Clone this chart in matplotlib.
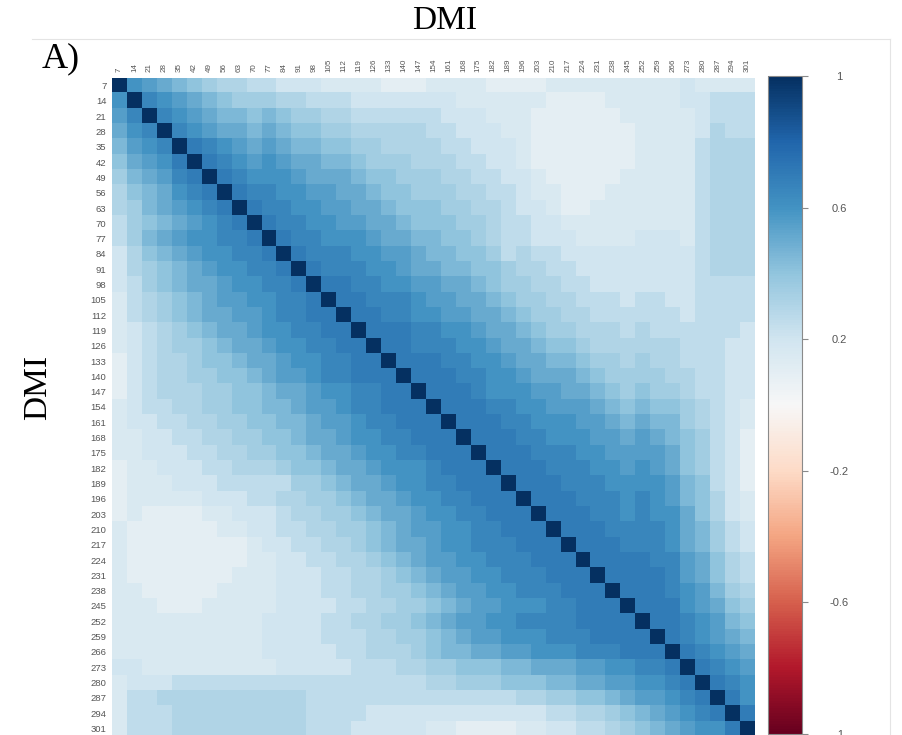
import numpy as np
import matplotlib
matplotlib.use("Agg")
import matplotlib.pyplot as plt
from matplotlib.lines import Line2D

# ---------------- data ----------------
labels = ["7", "14", "21", "28", "35", "42", "49", "56", "63", "70", "77", "84",
          "91", "98", "105", "112", "119", "126", "133", "140", "147", "154",
          "161", "168", "175", "182", "189", "196", "203", "210", "217", "224",
          "231", "238", "245", "252", "259", "266", "273", "280", "287", "294",
          "301"]

# correlation levels: character index in LEVELS / 20  (e.g. 'E' = 0.70)
LEVELS = "0123456789ABCDEFGHIJK"
diag_char = "K"

# lower triangle, row i holds columns 0..i-1;
# spaces only group the characters for readability
lower_rows = [
    "C",
    "BD",
    "ACD",
    "9BCD",
    "8ABCE",
    "79ABDE",
    "689ACDE",
    "679ABCDE",
    "5789ABCDE",
    "579ABCCDDE",
    "4689ABCCDDE",
    "46789ABCCDDE",
    "45789AABCCDDE",
    "356789ABBCCDDE",
    "356789AABBCDDEE",
    "3456789AABCCDDEE",
    "34567789AABCCDDEE",
    "245667889AABCCDDEE",
    "2456677889ABBCDDEEE",
    "24566677889AABCCDDEE",
    "345566778899ABBCDDEEE",
    "3445566778899ABBCDDEEE",
    "3344556677889AABCCDDEEE",
    "33444556677889AABCCDDEEE",
    "233444556667889AABCCCDEEE",
    "2333444555557789AABCCDDEEE",
    "23333344455667789AABCCDDEEE",
    "232222334445667789AABCCDDEEE",
    "3222222334455667789ABBCCDDEEE",
    "3 22222222 3445566789AABCCDDDEEE",
    "3 22222222 33445566789ABBCCDDDEEE",
    "3 2222222 3334445566789ABBCCDDDEEE",
    "33 22222 3333 444 55667789ABBCCDDDEEE",
    "333 222 33333 4444 55667789ABBCCCDDEEE",
    "3333333333 4444 5566778 9ABBCCDDDD EEEE",
    "3333333333 4444 555 6677 89ABBCCCDDD EEEE",
    "3333333333 44444 556667 899AABBCCCDDDEEE",
    "44 333333333 44444 55566 7788899AAABBCCDDE",
    "3 444 555555555 55555555 6677788899AABBCCDE",
    "3 556 666666666 5555 5555 555555 6677889ABBCDE",
    "3 555 666666666 5555 4444 4444444 45566789ABCDE",
    "3 555 666666666 555 44444 33222233 44556789ABCCE",
]

# ---------------- build matrix ----------------
n = len(labels)
M = np.full((n, n), LEVELS.index(diag_char) / 20.0)
bad = []
for i, row in enumerate(lower_rows, start=1):
    row = row.replace(" ", "")
    if len(row) != i:
        bad.append((i, len(row)))
        continue
    for j, ch in enumerate(row):
        v = LEVELS.index(ch) / 20.0
        M[i, j] = v
        M[j, i] = v
if bad:
    raise ValueError(f"row length mismatch: {bad}")

# ---------------- figure ----------------
W, H = 902, 735
fig = plt.figure(figsize=(W / 100, H / 100), dpi=100)


def fx(px):
    return px / W


def fy(py):
    return 1 - py / H


hm_left, hm_right, hm_top, hm_bottom = 112, 755, 78, 736
ax = fig.add_axes([fx(hm_left), fy(hm_bottom), fx(hm_right - hm_left),
                   (hm_bottom - hm_top) / H])
im = ax.imshow(M, cmap="RdBu", vmin=-1, vmax=1, aspect="auto",
               interpolation="nearest")
ax.set_xticks(range(n))
ax.set_yticks(range(n))
ax.set_xticklabels(labels, rotation=90, fontsize=5.8, color="#555555",
                   family=["Liberation Sans", "DejaVu Sans"])
ax.set_yticklabels(labels, fontsize=6.8, color="#555555",
                   family=["Liberation Sans", "DejaVu Sans"])
ax.xaxis.tick_top()
ax.tick_params(axis="both", length=0, pad=4)
for s in ax.spines.values():
    s.set_visible(False)

# colorbar
cax = fig.add_axes([fx(768), fy(734), fx(802 - 768), (734 - 76) / H])
cb = fig.colorbar(im, cax=cax, ticks=[1, 0.6, 0.2, -0.2, -0.6, -1])
cb.outline.set_edgecolor("#8a8a8a")
cb.outline.set_linewidth(0.8)
cb.ax.set_yticklabels(["1", "0.6", "0.2", "-0.2", "-0.6", "-1"])
cb.ax.tick_params(length=4, width=0.8, color="#8a8a8a", labelsize=8,
                  labelcolor="#555555", pad=23)
for t in cb.ax.get_yticklabels():
    t.set_horizontalalignment("center")
    t.set_family(["Liberation Sans", "DejaVu Sans"])

# titles
serif = ["Liberation Serif", "DejaVu Serif"]
fig.text(fx(445), fy(21), "DMI", ha="center", va="center", fontsize=24,
         family=serif)
fig.text(fx(38), fy(387), "DMI", ha="center", va="center", fontsize=24,
         family=serif, rotation=90)
fig.text(fx(42), fy(59), "A)", ha="left", va="center", fontsize=26,
         family=serif)

# faint panel border
fig.add_artist(Line2D([fx(32), fx(890)], [fy(39), fy(39)], color="#e4e4e4",
                      lw=0.8, transform=fig.transFigure))
fig.add_artist(Line2D([fx(890), fx(890)], [fy(39), fy(735)], color="#e4e4e4",
                      lw=0.8, transform=fig.transFigure))

fig.savefig("out.png", dpi=100)
